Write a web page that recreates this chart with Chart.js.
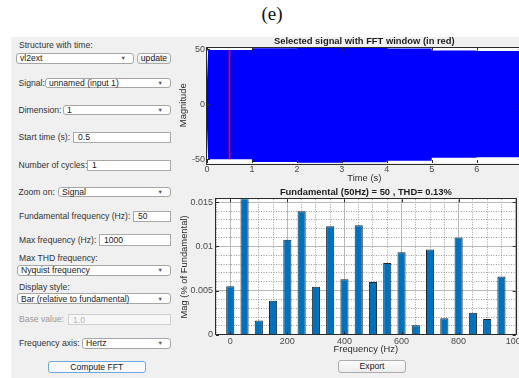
<!DOCTYPE html>
<html>
<head>
<meta charset="utf-8">
<title>FFT Analysis</title>
<script src="https://cdn.jsdelivr.net/npm/chart.js@4.4.1/dist/chart.umd.min.js"></script>
<style>
  html, body { margin: 0; padding: 0; background: #fff; overflow: hidden; }
  #page { position: relative; width: 519px; height: 378px; overflow: hidden;
          font-family: "Liberation Sans", Arial, Helvetica, sans-serif; }
  #caption { position: absolute; left: 222px; width: 100px; top: 3px; text-align: center;
             font: 19px/22px "Liberation Serif", "Times New Roman", serif; color: #111; }
  #gui { position: absolute; left: 11px; top: 37px; width: 560px; height: 345px; background: #f0f0f0; }
  .lbl { position: absolute; font-size: 8.6px; line-height: 10px; color: #333; white-space: nowrap;
         transform: translateY(-50%); }
  .lbl.off { color: #9a9a9a; }
  .ctl { position: absolute; box-sizing: border-box; display: flex; align-items: center;
         font-size: 8.6px; color: #222; white-space: nowrap; background: #fff; }
  .dd { border: 1px solid #a6a6a6; border-radius: 3px; padding-left: 3px; }
  .dd::after { content: "\25BC"; position: absolute; right: 7px; font-size: 5.5px; color: #555; }
  .tb { border: 1px solid #a9a9a9; padding-left: 4px; }
  .tb.off { border-color: #cfcfcf; background: #f7f7f7; color: #b5b5b5; }
  .btn { border: 1px solid #acacac; border-radius: 3px; justify-content: center;
         background: linear-gradient(#fdfdfd, #ececec); }
  .btn.primary { border-color: #6fa8dc; background: #fafafa; }
  canvas { position: absolute; }
</style>
</head>
<body>
<div id="page">
  <div id="caption">(e)</div>
  <div id="gui"></div>

  <!-- settings panel -->
  <div class="lbl" style="left:19px;top:44.7px">Structure with time:</div>
  <div class="ctl dd" style="left:16px;top:52.5px;width:118px;height:11px">vl2ext</div>
  <div class="ctl btn" style="left:137px;top:52.5px;width:34px;height:11px">update</div>

  <div class="lbl" style="left:18.5px;top:82.7px">Signal:</div>
  <div class="ctl dd" style="left:45px;top:78px;width:126px;height:10px">unnamed (input 1)</div>

  <div class="lbl" style="left:18.5px;top:110px">Dimension:</div>
  <div class="ctl dd" style="left:63px;top:105px;width:108px;height:10px">1</div>

  <div class="lbl" style="left:18.5px;top:137.3px">Start time (s):</div>
  <div class="ctl tb" style="left:73px;top:132px;width:98px;height:10.5px">0.5</div>

  <div class="lbl" style="left:18.5px;top:165px">Number of cycles:</div>
  <div class="ctl tb" style="left:87px;top:160px;width:84px;height:10.5px">1</div>

  <div class="lbl" style="left:18.5px;top:191.7px">Zoom on:</div>
  <div class="ctl dd" style="left:58px;top:187px;width:113px;height:10px">Signal</div>

  <div class="lbl" style="left:19px;top:215.7px">Fundamental frequency (Hz):</div>
  <div class="ctl tb" style="left:133px;top:210.5px;width:38px;height:11.5px">50</div>

  <div class="lbl" style="left:19px;top:240px">Max frequency (Hz):</div>
  <div class="ctl tb" style="left:99px;top:234.3px;width:72px;height:11.7px">1000</div>

  <div class="lbl" style="left:19px;top:258.3px">Max THD frequency:</div>
  <div class="ctl dd" style="left:17px;top:265px;width:154px;height:10.7px">Nyquist frequency</div>

  <div class="lbl" style="left:19px;top:286.7px">Display style:</div>
  <div class="ctl dd" style="left:17px;top:293px;width:154px;height:11.3px">Bar (relative to fundamental)</div>

  <div class="lbl off" style="left:19px;top:319.3px">Base value:</div>
  <div class="ctl tb off" style="left:68px;top:313.7px;width:103px;height:11.7px">1.0</div>

  <div class="lbl" style="left:19px;top:343.3px">Frequency axis:</div>
  <div class="ctl dd" style="left:82px;top:337.7px;width:89px;height:11px">Hertz</div>

  <div class="ctl btn primary" style="left:48px;top:360.7px;width:97.5px;height:12px">Compute FFT</div>
  <div class="ctl btn" style="left:337.7px;top:360.3px;width:68.7px;height:12.3px">Export</div>

  <canvas id="signal" width="380" height="158" style="left:170px;top:30px"></canvas>
  <canvas id="spectrum" width="370" height="171" style="left:172px;top:185px"></canvas>
</div>

<script>
// ---- time-domain signal: peak envelope of the 50 Hz waveform ----
const envTime  = [0, 0.025, 1, 1, 2, 2, 3, 3, 4, 4, 5, 5, 6, 6, 7];
const envUpper = [22, 49.3, 49.3, 50.8, 50.8, 51.5, 51.5, 51.0, 51.0, 50.5, 50.5, 48.8, 48.8, 48.3, 48.3];
const envLower = [-22, -50.2, -50.2, -52.8, -52.8, -53.3, -53.3, -53.0, -53.0, -51.5, -51.5, -48.8, -48.8, -48.3, -48.3];

// FFT window (one cycle starting at 0.5 s)
const windowTime = [0.5, 0.5];
const windowMag  = [-50.2, 49.3];

const timeTicks = [0, 1, 2, 3, 4, 5, 6, 7];
const magTicks  = [-50, 0, 50];

// ---- harmonic spectrum, % of fundamental ----
const harmonicFreq = [0, 50, 100, 150, 200, 250, 300, 350, 400, 450,
                      500, 550, 600, 650, 700, 750, 800, 850, 900, 950];
const harmonicPct  = [0.0055, 100, 0.0016, 0.00385, 0.01077, 0.01398, 0.00544, 0.01228, 0.00627, 0.0124,
                      0.00597, 0.00813, 0.00933, 0.00106, 0.00964, 0.00185, 0.0110, 0.00249, 0.00178, 0.00658];

const freqTicks = [0, 200, 400, 600, 800, 1000];
const pctTicks  = [0, 0.005, 0.01, 0.015];

const signalTitle   = 'Selected signal with FFT window (in red)';
const spectrumTitle = 'Fundamental (50Hz) = 50 , THD= 0.13%';

// ---- shared styling ----
const FONT = '"Liberation Sans", Arial, Helvetica, sans-serif';
const tickFont  = { family: FONT, size: 9 };
const titleFont = { family: FONT, size: 9.4 };
const tickColor = '#4a4a4a';
const axisColor = '#2b2b2b';
const gridMajor = '#b8b8b8';
const gridMinor = '#9c9c9c';

// White plot area, box frame with inward tick marks and a bold title above
const axesBox = {
  id: 'axesBox',
  beforeDraw(chart) {
    const { ctx, chartArea: a } = chart;
    ctx.save();
    ctx.fillStyle = '#ffffff';
    ctx.fillRect(a.left, a.top, a.right - a.left, a.bottom - a.top);
    ctx.restore();
  },
  afterDatasetsDraw(chart, args, opts) {
    const { ctx, chartArea: a, scales } = chart;
    const L = 3;
    ctx.save();
    ctx.strokeStyle = axisColor;
    ctx.lineWidth = 1;
    ctx.beginPath();
    for (const v of opts.xTicks) {
      const x = Math.round(scales.x.getPixelForValue(v)) + 0.5;
      ctx.moveTo(x, a.bottom); ctx.lineTo(x, a.bottom - L);
      ctx.moveTo(x, a.top);    ctx.lineTo(x, a.top + L);
    }
    for (const v of opts.yTicks) {
      const y = Math.round(scales.y.getPixelForValue(v)) + 0.5;
      ctx.moveTo(a.left, y);  ctx.lineTo(a.left + L, y);
      ctx.moveTo(a.right, y); ctx.lineTo(a.right - L, y);
    }
    ctx.stroke();
    ctx.strokeRect(Math.round(a.left) - 0.5, Math.round(a.top) - 0.5,
                   Math.round(a.right - a.left) + 1, Math.round(a.bottom - a.top) + 1);
    ctx.fillStyle = '#1e1e1e';
    ctx.font = 'bold 9.4px ' + FONT;
    ctx.textAlign = 'center';
    ctx.textBaseline = 'middle';
    ctx.fillText(opts.title, (a.left + a.right) / 2, a.top - opts.titleGap);
    ctx.restore();
  }
};

const pts = (xs, ys) => xs.map((x, i) => ({ x, y: ys[i] }));
const isMajorFreq = v => freqTicks.includes(v);
const isMajorPct  = v => pctTicks.some(t => Math.abs(t - v) < 1e-9);

// ---- upper axes: signal with FFT window ----
new Chart(document.getElementById('signal'), {
  type: 'line',
  data: {
    datasets: [
      { data: pts(envTime, envUpper), borderWidth: 0, borderColor: 'rgba(0,0,0,0)',
        backgroundColor: '#0000ff', pointRadius: 0, fill: '+1', order: 1 },
      { data: pts(envTime, envLower), borderWidth: 0, borderColor: 'rgba(0,0,0,0)',
        pointRadius: 0, fill: false, order: 2 },
      { data: pts(windowTime, windowMag), borderColor: '#ff0000', borderWidth: 1.6,
        pointRadius: 0, fill: false, order: 0 }
    ]
  },
  options: {
    responsive: false, animation: false, events: [],
    layout: { padding: { top: 17.5, right: 28.4, bottom: 0, left: 0 } },
    plugins: {
      legend: { display: false }, tooltip: { enabled: false },
      axesBox: { xTicks: timeTicks, yTicks: magTicks, title: signalTitle, titleGap: 6.5 }
    },
    scales: {
      x: {
        type: 'linear', min: 0, max: 7,
        afterBuildTicks: s => { s.ticks = timeTicks.map(v => ({ value: v })); },
        afterFit: s => { s.height = 25; },
        grid: { display: false, drawTicks: false }, border: { display: false },
        ticks: { padding: 1.5, color: tickColor, font: tickFont, autoSkip: false, maxRotation: 0 },
        title: { display: true, text: 'Time (s)', color: axisColor, font: titleFont,
                 padding: { top: 0, bottom: 4.1 } }
      },
      y: {
        type: 'linear', min: -53.6, max: 51.5,
        afterBuildTicks: s => { s.ticks = magTicks.map(v => ({ value: v })); },
        afterFit: s => { s.width = 37; },
        grid: { display: false, drawTicks: false }, border: { display: false },
        ticks: { padding: 2, color: tickColor, font: tickFont, autoSkip: false },
        title: { display: true, text: 'Magnitude', color: axisColor, font: titleFont,
                 padding: { top: 7.7, bottom: 0 } }
      }
    }
  },
  plugins: [axesBox]
});

// ---- lower axes: harmonic bar spectrum ----
new Chart(document.getElementById('spectrum'), {
  type: 'bar',
  data: {
    datasets: [{
      data: pts(harmonicFreq, harmonicPct),
      backgroundColor: '#0072bd', borderColor: '#1c242e', borderWidth: 1,
      barPercentage: 0.57, categoryPercentage: 1, clip: 0
    }]
  },
  options: {
    responsive: false, animation: false, events: [],
    layout: { padding: { top: 14.3, right: 26.3, bottom: 0, left: 0 } },
    plugins: {
      legend: { display: false }, tooltip: { enabled: false },
      axesBox: { xTicks: freqTicks, yTicks: pctTicks, title: spectrumTitle, titleGap: 7 }
    },
    scales: {
      x: {
        type: 'linear', min: -50, max: 1000, offset: false,
        afterBuildTicks: s => {
          const t = [];
          for (let v = -50; v <= 1000; v += 50) t.push({ value: v });
          s.ticks = t;
        },
        afterFit: s => { s.height = 21.3; },
        grid: {
          offset: false, drawTicks: false, lineWidth: 1,
          color: c => (c.tick && isMajorFreq(c.tick.value)) ? gridMajor : gridMinor
        },
        border: { display: false, dash: c => (c.tick && !isMajorFreq(c.tick.value)) ? [1, 1.5] : [] },
        ticks: { padding: 1.5, color: tickColor, font: tickFont, autoSkip: false, maxRotation: 0,
                 callback: v => isMajorFreq(v) ? String(v) : '' },
        title: { display: true, text: 'Frequency (Hz)', color: axisColor, font: titleFont,
                 padding: { top: 0, bottom: 1.1 } }
      },
      y: {
        type: 'linear', min: 0, max: 0.01534,
        afterBuildTicks: s => {
          const t = [];
          for (let k = 0; k <= 15; k++) t.push({ value: k / 1000 });
          s.ticks = t;
        },
        afterFit: s => { s.width = 44; },
        grid: {
          drawTicks: false, lineWidth: 1,
          color: c => (c.tick && isMajorPct(c.tick.value)) ? gridMajor : gridMinor
        },
        border: { display: false, dash: c => (c.tick && !isMajorPct(c.tick.value)) ? [1, 1.5] : [] },
        ticks: { padding: 3, color: tickColor, font: tickFont, autoSkip: false,
                 callback: v => { const m = pctTicks.find(t => Math.abs(t - v) < 1e-9); return m === undefined ? '' : String(m); } },
        title: { display: true, text: 'Mag (% of Fundamental)', color: axisColor, font: titleFont,
                 padding: { top: 6.7, bottom: 0 } }
      }
    }
  },
  plugins: [axesBox]
});
</script>
</body>
</html>
